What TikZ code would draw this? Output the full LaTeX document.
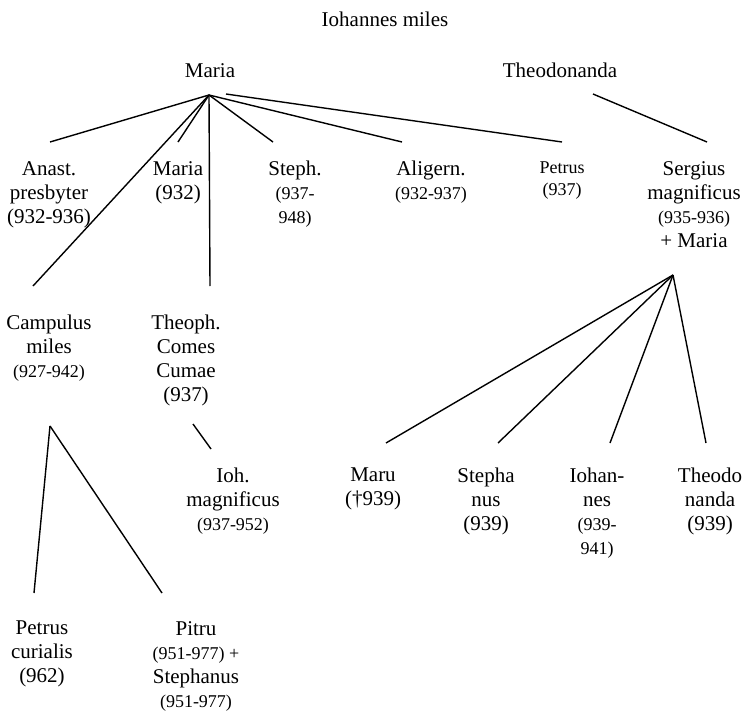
\documentclass[tikz,border=0pt]{standalone}
\usepackage{fontspec}
\setmainfont{Liberation Serif}
\def\nsize{\fontsize{21}{24}\selectfont}
\def\dsize{\fontsize{18}{22}\selectfont}
\tikzset{
    person/.style={align=center,inner sep=0pt,anchor=north,font=\nsize},
    kin/.style={line width=1.4pt},
}

\begin{document}
\begin{tikzpicture}[x=1pt,y=-1pt]
  \useasboundingbox (0,0) rectangle (745,712);

  % Generations
  \node[person] (iohannes) at (385,12) {Iohannes miles};
  \node[person] (maria) at (210,63) {Maria};
  \node[person] (theodonanda) at (560,63) {Theodonanda};

  \node[person] (anast) at (49,161) {Anast.\\presbyter\\(932-936)};
  \node[person] (mariab) at (178,161) {Maria\\(932)};
  \node[person] (steph) at (295,161) {Steph.\\\dsize(937-\\\dsize948)};
  \node[person] (aligern) at (431,161) {Aligern.\\\dsize(932-937)};
  \node[person,font=\dsize] (petrus) at (562,162) {Petrus\\(937)};
  \node[person] (sergius) at (694,161) {Sergius\\magnificus\\\dsize(935-936)\\\nsize+ Maria};

  \node[person] (campulus) at (49,315) {Campulus\\miles\\\dsize(927-942)};
  \node[person] (theoph) at (186,315) {Theoph.\\Comes\\Cumae\\(937)};

  \node[person] (ioh) at (233,468) {Ioh.\\magnificus\\\dsize(937-952)};
  \node[person] (maru) at (373,468) {Maru\\(†939)};
  \node[person] (stepha) at (486,468) {Stepha\\nus\\(939)};
  \node[person] (iohan) at (597,468) {Iohan-\\nes\\\dsize(939-\\\dsize941)};
  \node[person] (theodo) at (710,468) {Theodo\\nanda\\(939)};

  \node[person] (petrusc) at (42,621) {Petrus\\curialis\\(962)};
  \node[person] (pitru) at (196,621) {Pitru\\\dsize(951-977) +\\\nsize Stephanus\\\dsize(951-977)};

  % Line ends
  \coordinate (maria-hub) at (209,95);
  \coordinate (maria-hub2) at (226,94);
  \coordinate (theodonanda-hub) at (593,94);
  \coordinate (sergius-hub) at (673,275);
  \coordinate (theoph-hub) at (193,424);
  \coordinate (campulus-hub) at (50,426);
  \foreach \c/\x in {anast/50,mariab/178,steph/273,aligern/402,petrus/562,sergius/707}
    \coordinate (\c-top) at (\x,142);
  \coordinate (campulus-top) at (33,286);
  \coordinate (theoph-top) at (210,286);
  \coordinate (ioh-top) at (211,449);
  \foreach \c/\x in {maru/386,stepha/498,iohan/610,theodo/706}
    \coordinate (\c-top) at (\x,443);
  \coordinate (petrusc-top) at (34,593);
  \coordinate (pitru-top) at (162,593);

  % Descent lines
  \foreach \c in {anast,mariab,steph,aligern,campulus,theoph}
    \draw[kin] (maria-hub) -- (\c-top);
  \draw[kin] (maria-hub2) -- (petrus-top);
  \draw[kin] (theodonanda-hub) -- (sergius-top);
  \foreach \c in {maru,stepha,iohan,theodo}
    \draw[kin] (sergius-hub) -- (\c-top);
  \draw[kin] (theoph-hub) -- (ioh-top);
  \draw[kin] (campulus-hub) -- (petrusc-top);
  \draw[kin] (campulus-hub) -- (pitru-top);
\end{tikzpicture}
\end{document}
